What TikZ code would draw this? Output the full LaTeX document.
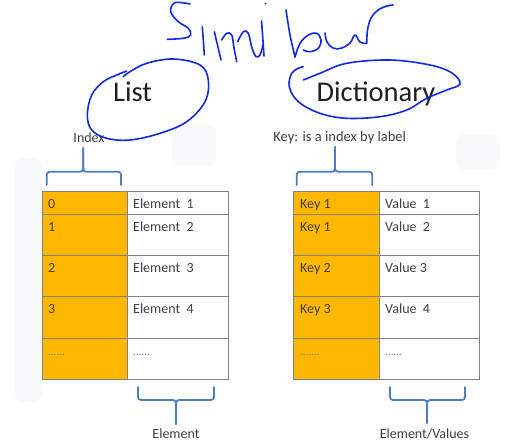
\documentclass[tikz,border=0pt]{standalone}
\usepackage{fontspec}
\setmainfont{Carlito}
\definecolor{keyorange}{RGB}{255,183,0}
\definecolor{linegray}{RGB}{130,130,130}
\definecolor{textgray}{RGB}{64,64,64}
\definecolor{titlegray}{RGB}{30,30,30}
\definecolor{braceblue}{RGB}{74,126,200}
\definecolor{inkblue}{RGB}{18,40,230}
\definecolor{faint}{RGB}{248,249,251}
\begin{document}
\begin{tikzpicture}[x=1pt,y=-1pt,
  txt/.style={font=\fontsize{14}{16}\selectfont, text=textgray, inner sep=0pt},
  dots/.style={font=\fontsize{11}{12}\selectfont, text=gray, inner sep=0pt},
  cellline/.style={draw=linegray, line width=1pt},
  bracestyle/.style={draw=braceblue, line width=1.8pt, rounded corners=3pt, line cap=round},
  ink/.style={draw=inkblue, line width=1.6pt, line cap=round, line join=round},
  title/.style={font=\fontsize{28.5}{32}\selectfont, text=titlegray, inner sep=0pt}]
\useasboundingbox (0,0) rectangle (518,447);
\fill[white] (0,0) rectangle (518,447);
% faint background
\fill[faint, rounded corners=8pt] (14,158) rectangle (42,402);
\fill[faint, rounded corners=8pt] (172,124) rectangle (216,166);
\fill[faint, rounded corners=8pt] (456,134) rectangle (500,170);
% tables
\foreach \t/\b in {191/214,214/255,255/296,296/338,338/379} {
  \draw[cellline, fill=keyorange] (42,\t) rectangle (127,\b);
  \draw[cellline, fill=white] (127,\t) rectangle (228,\b);
  \draw[cellline, fill=keyorange] (293,\t) rectangle (379,\b);
  \draw[cellline, fill=white] (379,\t) rectangle (479,\b);
}
% list texts
\node[txt, anchor=base west] (lk0) at (48,208) {0};
\node[txt, anchor=base west] (lk1) at (48,231) {1};
\node[txt, anchor=base west] (lk2) at (48,272) {2};
\node[txt, anchor=base west] (lk3) at (48,313) {3};
\node[dots, anchor=base west] (lk4) at (48,355) {......};
\node[txt, anchor=base west] (lv0) at (133,208) {Element~ 1};
\node[txt, anchor=base west] (lv1) at (133,231) {Element~ 2};
\node[txt, anchor=base west] (lv2) at (133,272) {Element~ 3};
\node[txt, anchor=base west] (lv3) at (133,313) {Element~ 4};
\node[dots, anchor=base west] (lv4) at (133,355) {......};
% dictionary texts
\node[txt, anchor=base west] (dk0) at (300,208) {Key 1};
\node[txt, anchor=base west] (dk1) at (300,231) {Key 1};
\node[txt, anchor=base west] (dk2) at (300,272) {Key 2};
\node[txt, anchor=base west] (dk3) at (300,313) {Key 3};
\node[dots, anchor=base west] (dk4) at (300,355) {.......};
\node[txt, anchor=base west] (dv0) at (385,208) {Value~ 1};
\node[txt, anchor=base west] (dv1) at (385,231) {Value~ 2};
\node[txt, anchor=base west] (dv2) at (385,272) {Value 3};
\node[txt, anchor=base west] (dv3) at (385,313) {Value~ 4};
\node[dots, anchor=base west] (dv4) at (385,355) {......};
% labels
\node[txt, anchor=base] (idx) at (89,142) {Index};
\node[txt, anchor=base, font=\fontsize{14.5}{16}\selectfont] (keylab) at (339.7,141) {Key: is a index by label};
\node[txt, anchor=base] (elem) at (176,438) {Element};
\node[txt, anchor=base] (elemval) at (424.5,438) {Element/Values};
% braces
\draw[bracestyle] (46.7,185) -- (46.7,171.7) -- (83.3,171.7) -- (83.3,148);
\draw[bracestyle] (121,185) -- (121,171.7) -- (83.3,171.7) -- (83.3,148);
\draw[bracestyle] (296.7,185) -- (296.7,171.7) -- (335,171.7) -- (335,147);
\draw[bracestyle] (372.3,185) -- (372.3,171.7) -- (335,171.7) -- (335,147);
\draw[bracestyle] (138,387) -- (138,400) -- (176,400) -- (176,424);
\draw[bracestyle] (214,387) -- (214,400) -- (176,400) -- (176,424);
\draw[bracestyle] (390,387) -- (390,400) -- (427,400) -- (427,423);
\draw[bracestyle] (465,387) -- (465,400) -- (427,400) -- (427,423);
% titles
\node[title, anchor=base] (list) at (132.5,101.7) {List};
\node[title, anchor=base] (dict) at (376,101.7) {Dictionary};
% handwriting "Similar"
\draw[ink] plot[smooth, tension=0.6] coordinates {(190,4) (175,2.7) (170.7,11.7) (178.3,21.7) (188.3,28.3) (190.7,35) (183.3,38.3) (167.3,39.3)};
\draw[ink] plot[smooth, tension=0.5] coordinates {(202.3,26.7) (203.3,40) (204.3,55)};
\draw[ink] plot[smooth, tension=0.5] coordinates {(214.3,31.7) (217.5,45) (221,60)};
\draw[ink] plot[smooth, tension=0.6] coordinates {(221.7,40) (226.7,33.3) (231.7,35) (234,48) (236.7,61.7)};
\draw[ink] plot[smooth, tension=0.6] coordinates {(237.7,41.7) (243.3,31.7) (248.3,33.3) (252,48) (256,56.5) (260,55) (263,45)};
\draw[ink] plot[smooth, tension=0.5] coordinates {(261.5,21) (262.8,38) (264,56)};
\fill[inkblue] (265.5,3.5) circle (1pt);
\draw[ink] plot[smooth, tension=0.5] coordinates {(286,10) (290,35) (295,57)};
\draw[ink] plot[smooth, tension=0.6] coordinates {(295,57) (300,43.3) (308.3,35) (316.7,33.3) (321,40) (318.3,48.3) (310,51.7) (303.3,50)};
\draw[ink] plot[smooth, tension=0.6] coordinates {(325,33) (327,42) (333,48) (341,48.3) (350,43) (355,35) (360,42) (366,43.5)};
\draw[ink] plot[smooth, tension=0.6] coordinates {(366.7,43.3) (367.5,30) (371,18) (378,10) (387,6) (393,5)};
% circle around List
\draw[ink] plot[smooth, tension=0.6] coordinates {(123.3,76.7) (130,71.7) (146.7,63.3) (173.3,59) (200,65) (208.3,80) (205,101.7) (186.7,121.7) (160,133.3) (130,140) (106.7,138.3) (91.7,130) (87.3,115) (91.7,95) (103.3,81.7) (116.7,75) (126.7,71)};
% circle around Dictionary
\draw[ink] plot[smooth, tension=0.6] coordinates {(303.3,80) (320,73.3) (346.7,63.3) (390,60) (430,65) (452,73) (460,84) (446.7,90) (426.7,98.3) (406.7,110) (380,116.7) (346.7,118.3) (320,113.3) (298.3,101.7) (289.3,86.7) (291.7,73.3) (298.3,68.3) (303.3,66.7)};
\end{tikzpicture}
\end{document}
